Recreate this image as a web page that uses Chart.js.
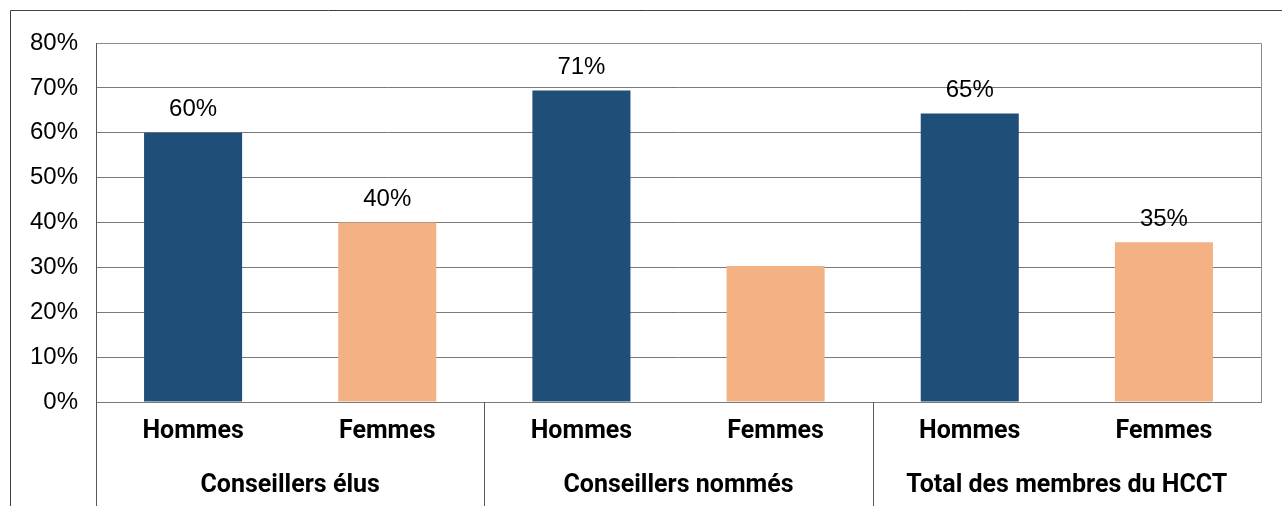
<!DOCTYPE html>
<html>
<head>
<meta charset="utf-8">
<script src="https://cdn.jsdelivr.net/npm/chart.js@4"></script>
<style>
    html, body { margin: 0; padding: 0; background: #fff; }
    #wrap { width: 1282px; height: 506px; }
</style>
</head>
<body>
<div id="wrap"><canvas id="chart" width="1282" height="506"></canvas></div>
<script>
// Chart data
const categories = ['Hommes', 'Femmes', 'Hommes', 'Femmes', 'Hommes', 'Femmes'];
const groups = ['Conseillers élus', 'Conseillers nommés', 'Total des membres du HCCT'];
const values = [60, 40, 69.4, 30.3, 64.3, 35.6];
const valueLabels = ['60%', '40%', '71%', '', '65%', '35%'];
const barColors = ['#1F4E79', '#F4B183', '#1F4E79', '#F4B183', '#1F4E79', '#F4B183'];

// Frame, plot border, group separators and value labels
const decorPlugin = {
    id: 'decor',
    afterDraw(chart) {
        const ctx = chart.ctx;
        const area = chart.chartArea;
        const x = chart.scales.x;
        ctx.save();

        // outer frame
        ctx.strokeStyle = '#404040';
        ctx.lineWidth = 1;
        ctx.beginPath();
        ctx.moveTo(10.5, chart.height);
        ctx.lineTo(10.5, 10.5);
        ctx.lineTo(chart.width, 10.5);
        ctx.stroke();

        // plot top / right border
        ctx.strokeStyle = '#8c8c8c';
        ctx.beginPath();
        ctx.moveTo(area.left, Math.round(area.top) + 0.5);
        ctx.lineTo(Math.round(area.right) + 0.5, Math.round(area.top) + 0.5);
        ctx.lineTo(Math.round(area.right) + 0.5, Math.round(area.bottom));
        ctx.stroke();

        // left axis line, full height
        ctx.strokeStyle = '#595959';
        ctx.beginPath();
        ctx.moveTo(Math.round(area.left) + 0.5, area.top);
        ctx.lineTo(Math.round(area.left) + 0.5, chart.height);
        ctx.stroke();

        // group separators below the axis
        const seps = [
            (x.getPixelForTick(1) + x.getPixelForTick(2)) / 2,
            (x.getPixelForTick(3) + x.getPixelForTick(4)) / 2];
        seps.forEach(px => {
            ctx.beginPath();
            ctx.moveTo(Math.round(px) + 0.5, area.bottom);
            ctx.lineTo(Math.round(px) + 0.5, chart.height);
            ctx.stroke();
        });

        // value labels
        const meta = chart.getDatasetMeta(0);
        ctx.fillStyle = '#000';
        ctx.font = '24px "Liberation Sans", Arial, sans-serif';
        ctx.textAlign = 'center';
        ctx.textBaseline = 'bottom';
        meta.data.forEach((bar, i) => {
            if (valueLabels[i]) {
                ctx.fillText(valueLabels[i], bar.x, bar.y - 11);
            }
        });
        ctx.restore();
    }
};

const ctx = document.getElementById('chart').getContext('2d');
new Chart(ctx, {
    type: 'bar',
    data: {
        labels: categories,
        datasets: [{
            data: values,
            backgroundColor: barColors,
            barPercentage: 0.505,
            categoryPercentage: 1.0
        }]
    },
    options: {
        responsive: false,
        animation: false,
        devicePixelRatio: 1,
        layout: {
            padding: { left: 0, top: 43, right: 21, bottom: 0 }
        },
        plugins: {
            legend: { display: false },
            tooltip: { enabled: false }
        },
        scales: {
            y: {
                min: 0,
                max: 80,
                afterFit: scale => { scale.width = 96; },
                ticks: {
                    stepSize: 10,
                    color: '#000',
                    padding: 18,
                    font: { family: '"Liberation Sans", Arial, sans-serif', size: 24 },
                    callback: value => value + '%'
                },
                grid: {
                    color: '#7a7a7a',
                    drawTicks: false
                },
                border: { display: false }
            },
            x: {
                afterFit: scale => { scale.height = 56; },
                ticks: {
                    color: '#000',
                    padding: 15,
                    maxRotation: 0,
                    font: { family: 'Roboto, sans-serif', size: 25, weight: 'bold' }
                },
                grid: { display: false, drawTicks: false },
                border: { display: true, color: '#7a7a7a' }
            },
            x2: {
                type: 'category',
                labels: groups,
                position: 'bottom',
                afterFit: scale => { scale.height = 48; },
                ticks: {
                    color: '#000',
                    padding: 13,
                    maxRotation: 0,
                    font: { family: 'Roboto, sans-serif', size: 25, weight: 'bold' }
                },
                grid: { display: false, drawTicks: false },
                border: { display: false }
            }
        }
    },
    plugins: [decorPlugin]
});
</script>
</body>
</html>
